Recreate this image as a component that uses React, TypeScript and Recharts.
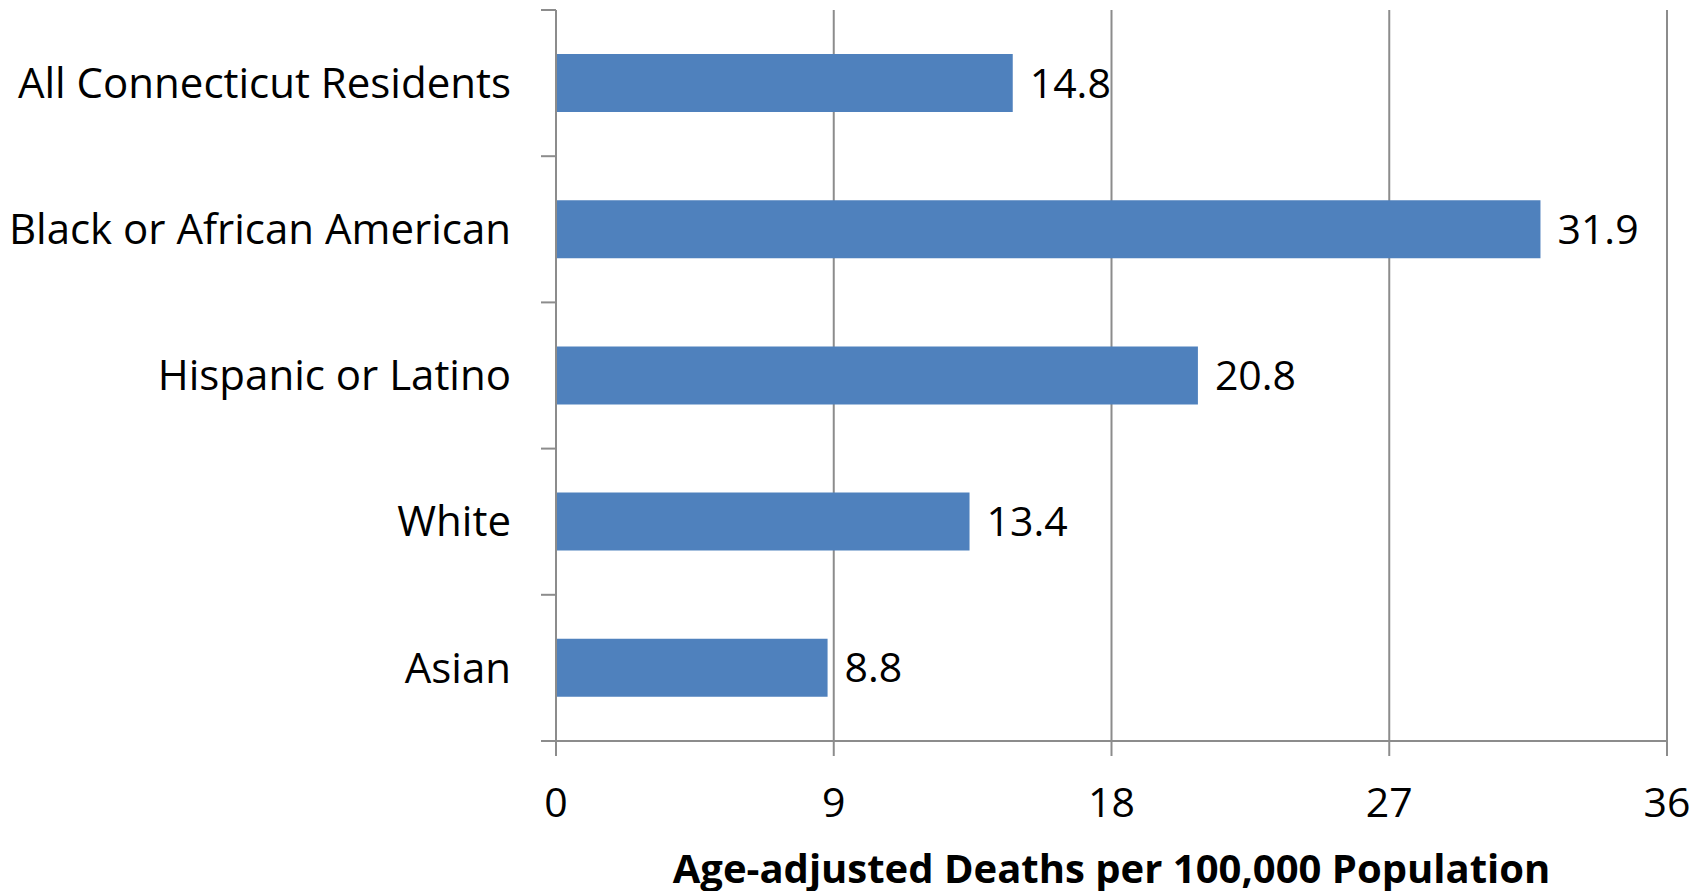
import React from 'react';
import { BarChart, Bar, XAxis, YAxis, CartesianGrid, LabelList } from 'recharts';

const groups = ['All Connecticut Residents', 'Black or African American', 'Hispanic or Latino', 'White', 'Asian'];
const rates = [14.8, 31.9, 20.8, 13.4, 8.8];
const xTicks = [0, 9, 18, 27, 36];

const data = groups.map((g, i) => ({ group: g, rate: rates[i] }));

const W = 1699;
const H = 883;
const M = { top: 2, right: 40, left: 0, bottom: 0 };
const Y_W = 548;
const X_H = 150;
const band = (H - M.top - M.bottom - X_H) / groups.length;
const AXIS = '#8c8c8c';

const YTick = (props: any) => {
  const { x, y, payload, index } = props;
  return (
    <g>
      <line x1={x - 15} x2={x} y1={y - band / 2} y2={y - band / 2} stroke={AXIS} strokeWidth={2} />
      {index === groups.length - 1 && (
        <line x1={x - 15} x2={x} y1={y + band / 2} y2={y + band / 2} stroke={AXIS} strokeWidth={2} />
      )}
      <text x={x - 45} y={y} dy="0.35em" textAnchor="end" fontSize={42} fill="#000">
        {payload.value}
      </text>
    </g>
  );
};

const XTick = (props: any) => {
  const { x, y, payload } = props;
  return (
    <g>
      <line x1={x} x2={x} y1={y} y2={y + 15} stroke={AXIS} strokeWidth={2} />
      <text x={x} y={y + 76} textAnchor="middle" fontSize={41} fill="#000">
        {payload.value}
      </text>
    </g>
  );
};

export default function App() {
  return (
    <div style={{ fontFamily: '"Open Sans", sans-serif', background: '#fff' }}>
      <BarChart width={W} height={H} data={data} layout="vertical" margin={M}>
        <CartesianGrid horizontal={false} stroke={AXIS} strokeWidth={2} />
        <XAxis
          type="number"
          domain={[0, 36]}
          ticks={xTicks}
          interval={0}
          height={X_H}
          tickLine={false}
          tickSize={0}
          tickMargin={0}
          tick={<XTick />}
          axisLine={{ stroke: AXIS, strokeWidth: 2 }}
          label={{
            value: 'Age-adjusted Deaths per 100,000 Population',
            position: 'insideBottom',
            offset: 8,
            style: { fontSize: 40, fontWeight: 700, fill: '#000' },
          }}
        />
        <YAxis
          type="category"
          dataKey="group"
          width={Y_W}
          tickLine={false}
          tickSize={0}
          tickMargin={0}
          tick={<YTick />}
          interval={0}
          axisLine={{ stroke: AXIS, strokeWidth: 2 }}
        />
        <Bar dataKey="rate" fill="#4f81bd" barSize={58} isAnimationActive={false}>
          <LabelList dataKey="rate" position="right" offset={17} fontSize={41} fill="#000" />
        </Bar>
      </BarChart>
    </div>
  );
}
